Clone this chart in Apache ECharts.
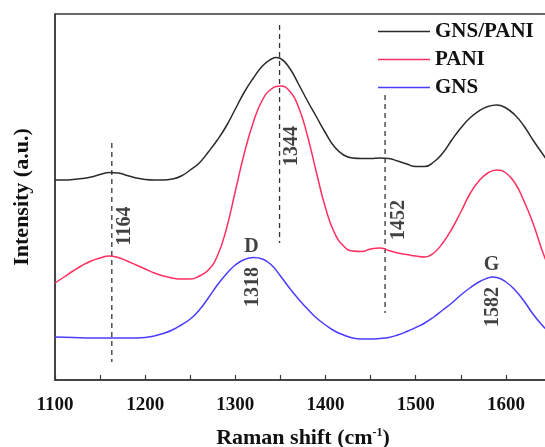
<!DOCTYPE html>
<html>
<head>
<meta charset="utf-8">
<script src="https://cdn.jsdelivr.net/npm/echarts@6/dist/echarts.min.js"></script>
<style>
html,body{margin:0;padding:0;background:#fff;}
#chart{width:545px;height:447px;}
</style>
</head>
<body>
<div id="chart"></div>
<script>
// Raman shift (cm-1) and intensity (a.u.)
var gnsPaniX = [1100,1110,1120,1130,1140,1150,1160,1170,1180,1190,1200,1210,1220,1230,1240,1250,1260,1270,1280,1290,1300,1310,1320,1330,1340,1345,1350,1360,1370,1380,1390,1400,1410,1420,1430,1440,1450,1460,1470,1480,1490,1500,1510,1520,1530,1540,1550,1560,1570,1580,1590,1600,1610,1620,1630,1640,1650];
var gnsPaniY = [200,200,200.5,201.5,203,205.5,207.5,207,204.5,202,200.5,200,200,201,204,210,217,228,240,254,271,288,302,314,321,322.5,321.5,312,296,279,263,247,233,225,222,221.5,221.5,222,221.5,219,216,213.5,213.5,218,227,240,252,262,269,273.5,275,272,265,254,240,227,214];

var paniX = [1100,1110,1120,1130,1140,1150,1160,1170,1180,1190,1200,1210,1220,1230,1240,1250,1260,1270,1280,1290,1300,1310,1320,1330,1340,1350,1360,1370,1380,1390,1400,1410,1420,1430,1440,1450,1460,1470,1480,1490,1500,1510,1520,1530,1540,1550,1560,1570,1580,1590,1600,1610,1620,1630,1640,1650];
var paniY = [97,103,109,114.5,119,122,124,122.5,119,115,111,107,104,102,101,101,104,110,124,151,189,227,258,280,291,294,289,273,244,207,172,147,134,129,128.5,131,132,129.5,127,125.5,124,123,127,137,151,168,186,199,207,210,207,197,179,157,130,107];

var gnsX = [1100,1120,1140,1160,1180,1200,1210,1220,1230,1240,1250,1260,1270,1280,1290,1300,1310,1320,1330,1340,1350,1360,1370,1380,1390,1400,1410,1420,1430,1440,1450,1460,1470,1480,1490,1500,1510,1520,1530,1540,1550,1560,1570,1580,1585,1590,1600,1610,1620,1630,1640,1650];
var gnsY = [43,42.5,42,42,42,42.5,44,46.5,50,55,61,70,82,95,106,115,120.5,122.5,121,115,104,92,81,71,62,55,49,45,42,41,41,41.5,42.5,45,48.5,52.5,57,63,70,77,85,92,98,102,103,102.5,98,90,79,66,55,46];

var seriesNames = ['GNS/PANI','PANI','GNS'];
var xTicks = [1100,1200,1300,1400,1500,1600];

// dashed guide lines: [x, yStart, yEnd]
var guideLines = [[1163,237,18],[1349,355,137],[1466,285,67]];
// rotated peak labels: [x, y, text]
var peakLabels = [[1177,154,'1164'],[1363,234,'1344'],[1481,160,'1452'],[1319,93,'1318'],[1586,73,'1582']];
// band labels: [x, y, text]
var bandLabels = [[1318,133,'D'],[1584,115,'G']];

function zip(xs, ys){ return xs.map(function(x,i){ return [x, ys[i]]; }); }

var FONT = '"Liberation Serif","DejaVu Serif",serif';
var colors = ['#2b2b2b','#ff3060','#4a3cff'];
var series = [
  {name: seriesNames[0], type:'line', data: zip(gnsPaniX,gnsPaniY), smooth:0.5, symbol:'none', lineStyle:{color:colors[0], width:1.5}, itemStyle:{color:colors[0]}},
  {name: seriesNames[1], type:'line', data: zip(paniX,paniY), smooth:0.5, symbol:'none', lineStyle:{color:colors[1], width:1.5}, itemStyle:{color:colors[1]}},
  {name: seriesNames[2], type:'line', data: zip(gnsX,gnsY), smooth:0.5, symbol:'none', lineStyle:{color:colors[2], width:1.5}, itemStyle:{color:colors[2]}}
];
guideLines.forEach(function(g){
  series.push({type:'line', data:[[g[0],g[1]],[g[0],g[2]]], symbol:'none', silent:true,
    lineStyle:{color:'#333', width:1.3, type:[5,4]}, z:1});
});
series.push({type:'scatter', symbolSize:0, silent:true,
  data: peakLabels.map(function(p){ return {value:[p[0],p[1]], name:p[2]}; }),
  label:{show:true, position:'inside', rotate:90, formatter:'{b}', color:'#111', fontFamily:FONT, fontWeight:'bold', fontSize:20}});
series.push({type:'scatter', symbolSize:0, silent:true,
  data: bandLabels.map(function(p){ return {value:[p[0],p[1]], name:p[2]}; }),
  label:{show:true, position:'inside', formatter:'{b}', color:'#111', fontFamily:FONT, fontWeight:'bold', fontSize:20}});

var chart = echarts.init(document.getElementById('chart'), null, {renderer:'canvas'});
chart.setOption({
  animation:false,
  backgroundColor:'#fff',
  grid:{left:55, top:14, right:-6, bottom:67, outerBoundsMode:'none', containLabel:false,
    show:true, borderColor:'#3a3a3a', borderWidth:1.5},
  legend:{data:seriesNames.map(function(n){ return {name:n, icon:'rect'}; }),
    orient:'vertical', left:378, top:21, padding:0, itemWidth:52, itemHeight:1.6, itemGap:7,
    textStyle:{color:'#111', fontFamily:FONT, fontWeight:'bold', fontSize:21, lineHeight:20}},
  xAxis:{type:'value', min:1100, max:1650, interval:50,
    axisLine:{show:true, lineStyle:{color:'#3a3a3a', width:1.5}},
    axisTick:{show:true, inside:true, length:5, lineStyle:{color:'#3a3a3a', width:1.2}},
    splitLine:{show:false},
    axisLabel:{margin:16, color:'#111', fontFamily:FONT, fontWeight:'bold', fontSize:19,
      formatter:function(v){ return xTicks.indexOf(v) >= 0 ? String(v) : ''; }},
    name:'{a|Raman shift (cm}{s|-1}{a|)}', nameLocation:'middle', nameGap:47,
    nameTextStyle:{rich:{
      a:{fontFamily:FONT, fontWeight:'bold', fontSize:22, color:'#111'},
      s:{fontFamily:FONT, fontWeight:'bold', fontSize:12, color:'#111', verticalAlign:'top', padding:[0,0,10,0]}
    }}
  },
  yAxis:{type:'value', min:0, max:366,
    axisLine:{show:true, lineStyle:{color:'#3a3a3a', width:1.5}},
    axisTick:{show:false}, axisLabel:{show:false}, splitLine:{show:false},
    name:'Intensity (a.u.)', nameLocation:'middle', nameGap:22, nameRotate:90,
    nameTextStyle:{fontFamily:FONT, fontWeight:'bold', fontSize:22, color:'#111'}
  },
  series: series
});
</script>
</body>
</html>
